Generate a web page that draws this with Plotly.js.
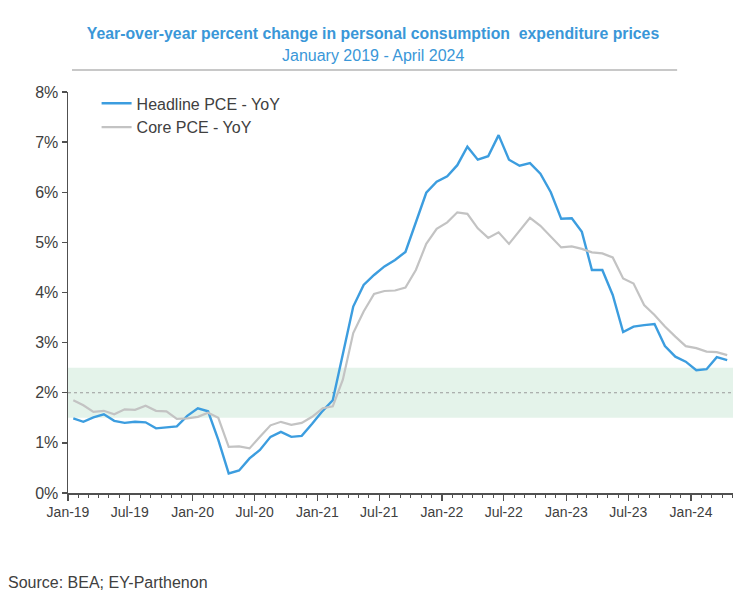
<!DOCTYPE html>
<html>
<head>
<meta charset="utf-8">
<script src="https://cdn.plot.ly/plotly-3.0.1.min.js"></script>
<style>
  html, body { margin: 0; padding: 0; background: #ffffff; }
  #chart { width: 749px; height: 604px; }
</style>
</head>
<body>
<div id="chart"></div>
<script>
// Monthly year-over-year % change, January 2019 through April 2024
const startYear = 2019;
const monthCount = 64;

const headlinePCE = [
  1.49, 1.42, 1.51, 1.57, 1.44, 1.40, 1.42, 1.41, 1.29, 1.31, 1.33, 1.54,
  1.69, 1.63, 1.06, 0.39, 0.45, 0.69, 0.86, 1.12, 1.22, 1.12, 1.14, 1.38,
  1.64, 1.85, 2.79, 3.72, 4.15, 4.35, 4.52, 4.65, 4.81, 5.42, 5.99, 6.21,
  6.32, 6.54, 6.91, 6.65, 6.72, 7.14, 6.65, 6.53, 6.58, 6.37, 6.00, 5.47,
  5.48, 5.21, 4.45, 4.45, 3.95, 3.21, 3.32, 3.35, 3.37, 2.93, 2.72, 2.62,
  2.45, 2.47, 2.71, 2.65
];

const corePCE = [
  1.85, 1.75, 1.62, 1.64, 1.57, 1.67, 1.66, 1.74, 1.64, 1.63, 1.48, 1.49,
  1.52, 1.60, 1.50, 0.92, 0.93, 0.89, 1.12, 1.35, 1.42, 1.36, 1.40, 1.52,
  1.69, 1.73, 2.26, 3.19, 3.62, 3.97, 4.03, 4.04, 4.10, 4.45, 4.97, 5.27,
  5.40, 5.60, 5.57, 5.28, 5.09, 5.20, 4.97, 5.24, 5.49, 5.33, 5.12, 4.90,
  4.92, 4.87, 4.80, 4.78, 4.70, 4.28, 4.18, 3.75, 3.55, 3.32, 3.12, 2.93,
  2.89, 2.82, 2.81, 2.75
];

// Fed target band and target rate
const targetBand = [1.5, 2.5];
const targetRate = 2;

const titleText = 'Year-over-year percent change in personal consumption  expenditure prices';
const subtitleText = 'January 2019 - April 2024';
const sourceText = 'Source: BEA; EY-Parthenon';
const seriesNames = ['Headline PCE - YoY', 'Core PCE - YoY'];

const months = [];
for (let i = 0; i < monthCount; i++) {
  const y = startYear + Math.floor(i / 12);
  const m = (i % 12) + 1;
  months.push(y + '-' + String(m).padStart(2, '0') + '-01');
}

const FONT = 'Liberation Sans, Arial, Helvetica, sans-serif';
const TEXT = '#404040';
const BLUE = '#3c9ddf';
const GRAY = '#c3c3c3';

const traces = [
  {
    x: months, y: headlinePCE, name: seriesNames[0],
    type: 'scatter', mode: 'lines',
    xperiod: 'M1', xperiodalignment: 'middle',
    line: { color: BLUE, width: 2.4 }
  },
  {
    x: months, y: corePCE, name: seriesNames[1],
    type: 'scatter', mode: 'lines',
    xperiod: 'M1', xperiodalignment: 'middle',
    line: { color: GRAY, width: 2.2 }
  }
];

const layout = {
  width: 749,
  height: 604,
  margin: { l: 68, r: 16, t: 92, b: 111 },
  paper_bgcolor: '#ffffff',
  plot_bgcolor: '#ffffff',
  font: { family: FONT, color: TEXT, size: 14 },
  showlegend: true,
  title: {
    text: '<b>' + titleText + '</b>',
    font: { family: FONT, size: 15.8, color: '#3a97d8' },
    x: 0.498, xanchor: 'center', xref: 'container',
    y: 0.945, yanchor: 'middle', yref: 'container'
  },
  legend: {
    x: 0.043, y: 1.014, xanchor: 'left', yanchor: 'top',
    bgcolor: 'rgba(0,0,0,0)',
    font: { family: FONT, size: 16, color: TEXT },
    tracegroupgap: 0
  },
  xaxis: {
    type: 'date',
    range: ['2019-01-01', '2024-05-03'],
    tick0: '2019-01-01',
    dtick: 'M6',
    tickformat: '%b-%y',
    ticks: 'outside',
    ticklen: 6,
    tickwidth: 1.3,
    tickcolor: '#505050',
    minor: { dtick: 'M1', ticks: 'outside', ticklen: 3, tickwidth: 1, tickcolor: '#505050' },
    showline: true,
    linecolor: '#505050',
    linewidth: 1.5,
    showgrid: false,
    zeroline: false,
    tickfont: { family: FONT, size: 14, color: TEXT }
  },
  yaxis: {
    range: [0, 8],
    dtick: 1,
    ticksuffix: '%',
    ticks: 'outside',
    ticklen: 5,
    tickwidth: 1.3,
    tickcolor: '#505050',
    showline: true,
    linecolor: '#505050',
    linewidth: 1.5,
    showgrid: false,
    zeroline: false,
    tickfont: { family: FONT, size: 16, color: TEXT }
  },
  shapes: [
    {
      type: 'rect', layer: 'below',
      xref: 'paper', x0: 0, x1: 1,
      yref: 'y', y0: targetBand[0], y1: targetBand[1],
      fillcolor: '#e4f3ea', line: { width: 0 }
    },
    {
      type: 'line', layer: 'below',
      xref: 'paper', x0: 0, x1: 1,
      yref: 'y', y0: targetRate, y1: targetRate,
      line: { color: '#9a9a9a', width: 1, dash: 'dot' }
    },
    {
      type: 'line',
      xref: 'paper', x0: 0.006, x1: 0.916,
      yref: 'paper', y0: 1.055, y1: 1.055,
      line: { color: '#c8c8c8', width: 2 }
    }
  ],
  annotations: [
    {
      text: subtitleText,
      xref: 'paper', yref: 'paper',
      x: 0.459, y: 1.092, xanchor: 'center', yanchor: 'middle',
      showarrow: false,
      font: { family: FONT, size: 16, color: '#3a97d8' }
    },
    {
      text: sourceText,
      xref: 'paper', yref: 'paper',
      x: -0.093, y: -0.224, xanchor: 'left', yanchor: 'middle',
      showarrow: false,
      font: { family: FONT, size: 16, color: TEXT }
    }
  ]
};

Plotly.newPlot('chart', traces, layout, { displayModeBar: false, staticPlot: true });
</script>
</body>
</html>
